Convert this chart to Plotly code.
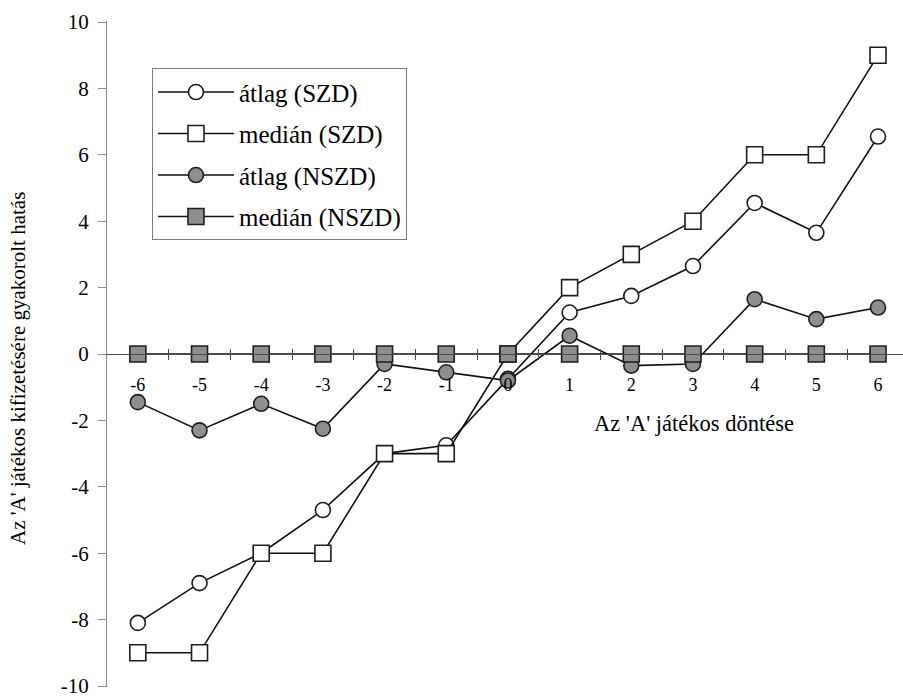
import plotly.graph_objects as go

# Decision of player 'A' (x axis categories)
dontes = [-6, -5, -4, -3, -2, -1, 0, 1, 2, 3, 4, 5, 6]

# Effect on player 'A' payoff
atlag_szd = [-8.1, -6.9, -6.0, -4.7, -3.0, -2.75, -0.75, 1.25, 1.75, 2.65, 4.55, 3.65, 6.55]
median_szd = [-9, -9, -6, -6, -3, -3, 0, 2, 3, 4, 6, 6, 9]
atlag_nszd = [-1.45, -2.3, -1.5, -2.25, -0.3, -0.55, -0.8, 0.55, -0.35, -0.3, 1.65, 1.05, 1.4]
median_nszd = [0, 0, 0, 0, 0, 0, 0, 0, 0, 0, 0, 0, 0]

y_ticks = [-10, -8, -6, -4, -2, 0, 2, 4, 6, 8, 10]
x_minor = [v + 0.5 for v in dontes[:-1]]

SERIF = "Liberation Serif"
GRAY = "#8e8e8e"
EDGE = "#1e1e1e"

series = [
    ("átlag (SZD)", atlag_szd, "circle", "white", 15),
    ("medián (SZD)", median_szd, "square", "white", 16),
    ("átlag (NSZD)", atlag_nszd, "circle", GRAY, 15),
    ("medián (NSZD)", median_nszd, "square", GRAY, 16),
]

fig = go.Figure()
for i, (name, vals, sym, fill, size) in enumerate(series):
    fig.add_trace(go.Scatter(
        x=dontes, y=vals, name=name, mode="lines+markers",
        legendgroup=name,
        line=dict(color="#111111", width=1.6),
        marker=dict(symbol=sym, size=size, color=fill,
                    line=dict(color=EDGE, width=1.6)),
        cliponaxis=False,
        xaxis="x2" if i == len(series) - 1 else "x",
    ))

xrange = [-6.5, 6.405]

fig.update_layout(
    width=903, height=697,
    margin=dict(l=107, r=0, t=21, b=10),
    paper_bgcolor="white", plot_bgcolor="white",
    font=dict(family=SERIF, color="black"),
    showlegend=True,
    legend=dict(
        x=0.0565, y=0.929, xanchor="left", yanchor="top",
        bgcolor="white", bordercolor="#7a7a7a", borderwidth=1,
        font=dict(family=SERIF, size=25, color="black"),
        tracegroupgap=6,
        itemwidth=76,
    ),
    xaxis=dict(
        range=xrange, anchor="free", position=0.5,
        showgrid=False, zeroline=False,
        showline=True, linecolor="#4a4a4a", linewidth=1.3,
        tickvals=dontes, ticktext=[str(v) for v in dontes],
        ticks="", ticklabelstandoff=14,
        tickfont=dict(family=SERIF, size=18, color="black"),
        minor=dict(tickvals=x_minor, ticks="outside", ticklen=5,
                   tickcolor="#4a4a4a", tickwidth=1),
    ),
    xaxis2=dict(
        range=xrange, overlaying="x", anchor="free", position=0.5,
        showgrid=False, zeroline=False, showline=False,
        tickvals=x_minor, ticks="inside", ticklen=5,
        tickcolor="#4a4a4a", tickwidth=1, showticklabels=False,
    ),
    yaxis=dict(
        range=[-10.03, 10.03], showgrid=False, zeroline=False,
        showline=True, linecolor="#8a8a8a", linewidth=1.3,
        tickvals=y_ticks, ticktext=[str(v) for v in y_ticks],
        ticks="outside", ticklen=8,
        tickcolor="#8a8a8a", tickwidth=1.3,
        ticklabelstandoff=5, ticklabeloverflow="allow",
        tickfont=dict(family=SERIF, size=21, color="black"),
    ),
    annotations=[
        dict(text="Az 'A' játékos döntése", xref="paper", yref="paper",
             x=(694 - 107) / 796, y=1 - (423 - 21) / 666,
             xanchor="center", yanchor="middle", showarrow=False,
             font=dict(family=SERIF, size=22.5, color="black")),
        dict(text="Az 'A' játékos kifizetésére gyakorolt hatás",
             xref="paper", yref="paper",
             x=(18 - 107) / 796, y=1 - (369 - 21) / 666,
             xanchor="center", yanchor="middle", textangle=-90,
             showarrow=False,
             font=dict(family=SERIF, size=21, color="black")),
    ],
)

fig.write_html("out.html")
